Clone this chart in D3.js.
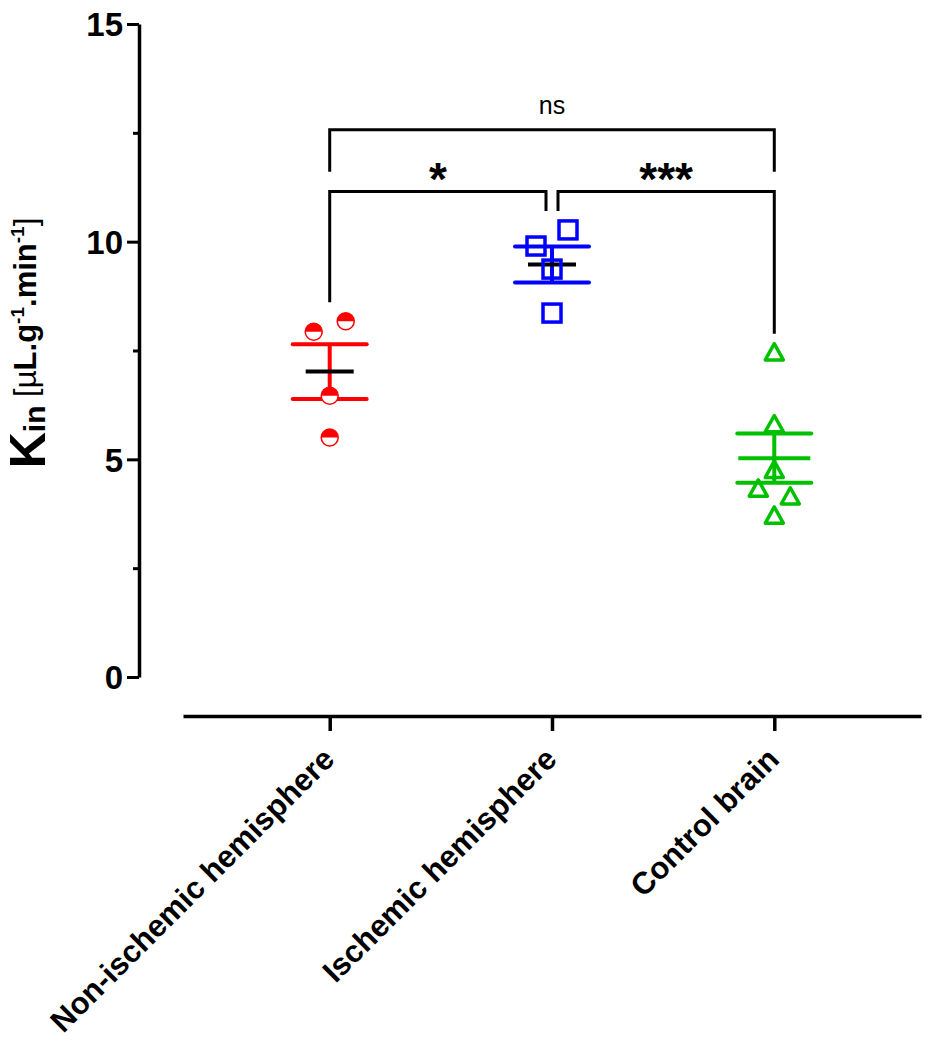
<!DOCTYPE html>
<html>
<head>
<meta charset="utf-8">
<script src="https://cdn.jsdelivr.net/npm/d3@7"></script>
<style>
  html, body { margin: 0; padding: 0; background: #fff; }
  svg { display: block; font-family: "Liberation Sans", Arial, Helvetica, sans-serif; }
</style>
</head>
<body>
<svg id="chart" width="938" height="1050"></svg>
<script>
// ---------- data ----------
const categories = ["Non-ischemic hemisphere", "Ischemic hemisphere", "Control brain"];
const nonIschemic = [7.93, 8.17, 6.46, 5.50];
const ischemic = [9.90, 10.27, 9.37, 8.36];
const control = [7.45, 5.80, 4.75, 4.32, 4.14, 3.70];
const yTicks = [0, 5, 10, 15];
const yMinorTicks = [2.5, 7.5, 12.5];
const comparisons = [
  { a: 0, b: 2, label: "ns" },
  { a: 0, b: 1, label: "*" },
  { a: 1, b: 2, label: "***" }
];
const colors = ["#ff0000", "#0000ff", "#00c000"];
const meanColors = ["#000000", "#000000", "#00c000"];
const shapes = ["halfcircle", "square", "triangle"];

const groups = [nonIschemic, ischemic, control];

// ---------- layout ----------
const svg = d3.select("#chart");
const font = '"Liberation Sans", Arial, Helvetica, sans-serif';

const y = d3.scaleLinear().domain([0, 15]).range([677, 24]);
const x = d3.scalePoint().domain(categories).range([183, 921]).padding(0.66);

// Y axis (major)
const yAxisG = svg.append("g").attr("transform", "translate(139,0)")
  .call(d3.axisLeft(y).tickValues(yTicks).tickSize(12).tickSizeOuter(0).tickPadding(4).tickFormat(d3.format("d")));
yAxisG.select(".domain").attr("stroke", "#000").attr("stroke-width", 3.5);
yAxisG.selectAll(".tick line").attr("stroke", "#000").attr("stroke-width", 3);
yAxisG.selectAll(".tick text").attr("font-family", font).attr("font-weight", "bold")
  .attr("font-size", 33).attr("fill", "#000").attr("dy", "0.36em");

// Y axis (minor)
const yMinorG = svg.append("g").attr("transform", "translate(139,0)")
  .call(d3.axisLeft(y).tickValues(yMinorTicks).tickSize(6).tickSizeOuter(0).tickFormat(""));
yMinorG.select(".domain").remove();
yMinorG.selectAll(".tick line").attr("stroke", "#000").attr("stroke-width", 3);

// X axis
const xAxisG = svg.append("g").attr("transform", "translate(0,716)")
  .call(d3.axisBottom(x).tickSize(15).tickSizeOuter(0));
xAxisG.select(".domain").attr("stroke", "#000").attr("stroke-width", 3.5);
xAxisG.selectAll(".tick line").attr("stroke", "#000").attr("stroke-width", 3.5);
xAxisG.selectAll(".tick text")
  .attr("font-family", font).attr("font-weight", "bold").attr("font-size", 31).attr("fill", "#000")
  .attr("text-anchor", "end").attr("x", 0).attr("y", 0).attr("dy", 0)
  .attr("transform", "translate(6,45) rotate(-45)");

// Y axis label
const yl = svg.append("text")
  .attr("transform", "translate(45,343) rotate(-90)")
  .attr("text-anchor", "middle")
  .attr("font-family", font).attr("fill", "#000");
yl.append("tspan").attr("font-size", 50).attr("font-weight", "bold").text("K");
yl.append("tspan").attr("font-size", 30).attr("font-weight", "bold").attr("dy", 0).text("in");
yl.append("tspan").attr("font-size", 31).attr("font-weight", "normal").attr("dy", -9).text(" [");
yl.append("tspan").attr("font-size", 31).attr("font-weight", "normal").text("\u00b5");
yl.append("tspan").attr("font-size", 31).attr("font-weight", "bold").text("L.g");
yl.append("tspan").attr("font-size", 19).attr("font-weight", "bold").attr("dy", -12).text("-1");
yl.append("tspan").attr("font-size", 31).attr("font-weight", "bold").attr("dy", 12).text(".min");
yl.append("tspan").attr("font-size", 19).attr("font-weight", "bold").attr("dy", -12).text("-1");
yl.append("tspan").attr("font-size", 31).attr("font-weight", "normal").attr("dy", 12).text("]");

// ---------- stats ----------
function stats(arr) {
  const m = d3.mean(arr);
  const sem = d3.deviation(arr) / Math.sqrt(arr.length);
  return { mean: m, sem: sem };
}

// simple spread: values (in data order) closer than threshold px are split left/right
function spread(arr) {
  const off = arr.map(() => 0);
  const used = arr.map(() => false);
  for (let i = 0; i < arr.length; i++) {
    if (used[i]) continue;
    for (let j = i + 1; j < arr.length; j++) {
      if (used[j]) continue;
      if (Math.abs(y(arr[i]) - y(arr[j])) < 17.5) {
        off[i] = -16; off[j] = 16; used[i] = used[j] = true; break;
      }
    }
  }
  return off;
}

// ---------- error bars ----------
groups.forEach((arr, gi) => {
  const cx = x(categories[gi]);
  const s = stats(arr);
  const g = svg.append("g");
  const col = colors[gi];
  g.append("line").attr("x1", cx).attr("x2", cx).attr("y1", y(s.mean + s.sem)).attr("y2", y(s.mean - s.sem))
    .attr("stroke", col).attr("stroke-width", 4);
  [s.mean + s.sem, s.mean - s.sem].forEach(v => {
    g.append("line").attr("x1", cx - 37).attr("x2", cx + 37).attr("y1", y(v)).attr("y2", y(v))
      .attr("stroke", col).attr("stroke-width", 4).attr("stroke-linecap", "round");
  });
  const hw = gi === 2 ? 36 : 24;
  g.append("line").attr("x1", cx - hw).attr("x2", cx + hw).attr("y1", y(s.mean)).attr("y2", y(s.mean))
    .attr("stroke", meanColors[gi]).attr("stroke-width", 4);
});

// ---------- points ----------
groups.forEach((arr, gi) => {
  const cx = x(categories[gi]);
  const off = spread(arr);
  const col = colors[gi];
  const g = svg.append("g");
  arr.forEach((v, i) => {
    const px = cx + off[i], py = y(v);
    if (shapes[gi] === "halfcircle") {
      const r = 8.5;
      g.append("circle").attr("cx", px).attr("cy", py).attr("r", r).attr("fill", "#fff")
        .attr("stroke", col).attr("stroke-width", 1.5);
      g.append("path").attr("d", `M${px - r},${py} A${r},${r} 0 0 1 ${px + r},${py} Z`).attr("fill", col);
    } else if (shapes[gi] === "square") {
      const h = 9;
      g.append("rect").attr("x", px - h).attr("y", py - h).attr("width", 2 * h).attr("height", 2 * h)
        .attr("fill", "none").attr("stroke", col).attr("stroke-width", 3.5);
    } else {
      const h = 9;
      g.append("path")
        .attr("d", `M${px},${py - h} L${px + h},${py + h * 0.8} L${px - h},${py + h * 0.8} Z`)
        .attr("fill", "none").attr("stroke", col).attr("stroke-width", 3.5).attr("stroke-linejoin", "round");
    }
  });
});

// ---------- significance brackets ----------
const bk = svg.append("g").attr("stroke", "#000").attr("stroke-width", 3).attr("fill", "none");
function topOf(gi) { return y(d3.max(groups[gi])) - 19; }
comparisons.forEach(c => {
  let xa = x(categories[c.a]), xb = x(categories[c.b]);
  let level, ya, yb;
  if (c.b - c.a === 2) {
    level = y(12.57);
    ya = yb = level + 42;
  } else {
    level = y(11.15);
    if (c.a === 1) xa += 6; else xb -= 6;
    ya = topOf(c.a); yb = topOf(c.b);
  }
  bk.append("path").attr("d", `M${xa},${ya} L${xa},${level} L${xb},${level} L${xb},${yb}`);
  const t = svg.append("text").attr("x", (xa + xb) / 2).attr("text-anchor", "middle")
    .attr("font-family", font).attr("fill", "#000").text(c.label);
  if (c.label === "ns") t.attr("y", level - 16).attr("font-size", 25);
  else t.attr("y", level + 3).attr("font-size", 46).attr("font-weight", "bold");
});
</script>
</body>
</html>
